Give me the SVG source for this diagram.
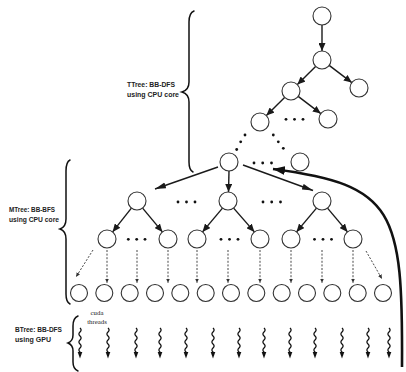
<svg xmlns="http://www.w3.org/2000/svg" xmlns:xlink="http://www.w3.org/1999/xlink" width="406" height="372" viewBox="0 0 406 372">
<style>
.n{fill:#fff;stroke:#333;stroke-width:1.1}
.e{fill:none;stroke:#1a1a1a;stroke-width:1.4}
.d{fill:none;stroke:#333;stroke-width:0.9;stroke-dasharray:2 1.6}
.br{fill:none;stroke:#111;stroke-width:1.5;stroke-linecap:round}
.dot{fill:#111}
.lb{font-family:"Liberation Sans",Arial,sans-serif;font-weight:bold;font-size:7.5px;fill:#222}
.cu{font-family:"Liberation Serif","Times New Roman",serif;font-size:6.8px;fill:#222;text-anchor:middle}
</style>
<defs>
<marker id="ah" markerUnits="userSpaceOnUse" markerWidth="9" markerHeight="7" refX="8" refY="3.5" orient="auto"><path d="M0,0 L8,3.5 L0,7 Z" fill="#1a1a1a"/></marker>
<marker id="ahl" markerUnits="userSpaceOnUse" markerWidth="12" markerHeight="7" refX="11" refY="3.5" orient="auto"><path d="M0,0.5 L11,3.5 L0,6.5 Z" fill="#1a1a1a"/></marker>
<marker id="ahb" markerUnits="userSpaceOnUse" markerWidth="13" markerHeight="9" refX="12" refY="4.5" orient="auto"><path d="M0,0 L12,4.5 L0,9 Z" fill="#111"/></marker>
<marker id="ahs" markerUnits="userSpaceOnUse" markerWidth="5" markerHeight="4" refX="4.5" refY="2" orient="auto"><path d="M0,0 L4.5,2 L0,4 Z" fill="#333"/></marker>
<g id="wv"><path d="M0 328 q2.2 2 0 4 q-2.2 2 0 4 q2.2 2 0 4 q-2.2 2 0 4 q2.2 2 0 4 q-2.2 2 0 4 L0 353" fill="none" stroke="#111" stroke-width="1.3"/><path d="M-2.3 352 L2.3 352 L0 358.5 Z" fill="#111"/></g>
</defs>
<rect width="406" height="372" fill="#fff"/>

<g id="labels">
<path class="br" d="M194 11 Q189 13 189 22 L189 82 Q189 90 182 92 Q189 94 189 102 L189 162 Q189 170 193 172"/>
<text class="lb" x="127" y="86.5" textLength="48" lengthAdjust="spacingAndGlyphs">TTree: BB-DFS</text>
<text class="lb" x="127" y="96.5" textLength="52" lengthAdjust="spacingAndGlyphs">using CPU core</text>
<path class="br" d="M70 160 Q66 162 66 171 L66 219 Q66 227 60 229 Q66 231 66 239 L66 294 Q66 302 70 304"/>
<text class="lb" x="9" y="211.5" textLength="46" lengthAdjust="spacingAndGlyphs">MTree: BB-BFS</text>
<text class="lb" x="9" y="222" textLength="50" lengthAdjust="spacingAndGlyphs">using CPU core</text>
<path class="br" d="M78 316 Q73 318 73 326 L73 335 Q73 341 68 343 Q73 345 73 351 L73 362 Q73 369 78 371"/>
<text class="lb" x="15" y="332" textLength="47" lengthAdjust="spacingAndGlyphs">BTree: BB-DFS</text>
<text class="lb" x="15" y="342" textLength="36" lengthAdjust="spacingAndGlyphs">using  GPU</text>
<text class="cu" x="97" y="315">cuda</text>
<text class="cu" x="97" y="324">threads</text>
</g>

<g id="connectors">
<line class="e" x1="322" y1="25" x2="322" y2="51" marker-end="url(#ah)"/>
<line class="e" x1="315.6" y1="66.4" x2="297.4" y2="84.6" marker-end="url(#ah)"/>
<line class="e" x1="329.2" y1="65.4" x2="351.8" y2="82.6" marker-end="url(#ah)"/>
<line class="e" x1="284.6" y1="97.4" x2="266.4" y2="115.6" marker-end="url(#ah)"/>
<line class="e" x1="298.2" y1="96.4" x2="320.8" y2="113.6" marker-end="url(#ah)"/>
<line class="e" x1="218" y1="167" x2="155" y2="189" marker-end="url(#ahl)"/>
<line class="e" x1="229" y1="171" x2="228.5" y2="192" marker-end="url(#ah)"/>
<line class="e" x1="243" y1="165" x2="313" y2="190.5" marker-end="url(#ahl)"/>
<line class="e" x1="131.4" y1="208.1" x2="112.6" y2="231.9" marker-end="url(#ah)"/>
<line class="e" x1="142.6" y1="208.1" x2="162.4" y2="231.9" marker-end="url(#ah)"/>
<line class="e" x1="222.5" y1="208.1" x2="202.5" y2="231.9" marker-end="url(#ah)"/>
<line class="e" x1="233.6" y1="208.1" x2="254.4" y2="231.9" marker-end="url(#ah)"/>
<line class="e" x1="316.5" y1="208.1" x2="296.5" y2="231.9" marker-end="url(#ah)"/>
<line class="e" x1="327.5" y1="208.1" x2="347.5" y2="231.9" marker-end="url(#ah)"/>
<path d="M402 367 C403 210 395 185 273 169" fill="none" stroke="#111" stroke-width="2.6" marker-end="url(#ahb)"/>
<line class="d" x1="93" y1="250" x2="76" y2="277" marker-end="url(#ahs)"/>
<line class="d" x1="107" y1="250" x2="107" y2="283" marker-end="url(#ahs)"/>
<line class="d" x1="137" y1="250" x2="137" y2="283" marker-end="url(#ahs)"/>
<line class="d" x1="168" y1="250" x2="168" y2="283" marker-end="url(#ahs)"/>
<line class="d" x1="197" y1="250" x2="197" y2="283" marker-end="url(#ahs)"/>
<line class="d" x1="228" y1="250" x2="228" y2="283" marker-end="url(#ahs)"/>
<line class="d" x1="260" y1="250" x2="260" y2="283" marker-end="url(#ahs)"/>
<line class="d" x1="291" y1="250" x2="291" y2="283" marker-end="url(#ahs)"/>
<line class="d" x1="322" y1="250" x2="322" y2="283" marker-end="url(#ahs)"/>
<line class="d" x1="353" y1="250" x2="353" y2="283" marker-end="url(#ahs)"/>
<line class="d" x1="366" y1="251" x2="382" y2="279" marker-end="url(#ahs)"/>
</g>

<g id="ellipses">
<circle class="dot" cx="245" cy="135" r="1.4"/><circle class="dot" cx="240.7" cy="141.8" r="1.4"/><circle class="dot" cx="236.7" cy="149.5" r="1.4"/>
<circle class="dot" cx="273.3" cy="135" r="1.4"/><circle class="dot" cx="278.3" cy="141.8" r="1.4"/><circle class="dot" cx="283.3" cy="148.3" r="1.4"/>
<circle class="dot" cx="286" cy="119.3" r="1.4"/><circle class="dot" cx="294.5" cy="119.3" r="1.4"/><circle class="dot" cx="303" cy="119.3" r="1.4"/>
<circle class="dot" cx="254" cy="163" r="1.4"/><circle class="dot" cx="262.7" cy="163" r="1.4"/><circle class="dot" cx="271.5" cy="163" r="1.4"/>
<circle class="dot" cx="178" cy="202" r="1.4"/><circle class="dot" cx="186.5" cy="202" r="1.4"/><circle class="dot" cx="195" cy="202" r="1.4"/>
<circle class="dot" cx="263" cy="202" r="1.4"/><circle class="dot" cx="271.7" cy="202" r="1.4"/><circle class="dot" cx="280.5" cy="202" r="1.4"/>
<circle class="dot" cx="128.3" cy="239.3" r="1.4"/><circle class="dot" cx="136.7" cy="239.3" r="1.4"/><circle class="dot" cx="145" cy="239.3" r="1.4"/>
<circle class="dot" cx="221" cy="239.3" r="1.4"/><circle class="dot" cx="229.5" cy="239.3" r="1.4"/><circle class="dot" cx="238" cy="239.3" r="1.4"/>
<circle class="dot" cx="314.5" cy="239.3" r="1.4"/><circle class="dot" cx="323" cy="239.3" r="1.4"/><circle class="dot" cx="331.5" cy="239.3" r="1.4"/>
</g>

<g id="t1"><circle class="n" cx="322" cy="16" r="9"/></g>
<g id="t2"><circle class="n" cx="322" cy="60" r="9"/></g>
<g id="t3"><circle class="n" cx="291" cy="91" r="9"/></g>
<g id="t4"><circle class="n" cx="359" cy="88" r="9"/></g>
<g id="t5"><circle class="n" cx="260" cy="122" r="9"/></g>
<g id="t6"><circle class="n" cx="328" cy="119" r="9"/></g>
<g id="t7"><circle class="n" cx="229" cy="162" r="9"/></g>
<g id="t8"><circle class="n" cx="300" cy="162" r="9"/></g>
<g id="m1"><circle class="n" cx="137" cy="201" r="9"/></g>
<g id="m2"><circle class="n" cx="228" cy="201" r="9"/></g>
<g id="m3"><circle class="n" cx="322" cy="201" r="9"/></g>
<g id="m4"><circle class="n" cx="107" cy="239" r="9"/></g>
<g id="m5"><circle class="n" cx="168" cy="239" r="9"/></g>
<g id="m6"><circle class="n" cx="197" cy="239" r="9"/></g>
<g id="m7"><circle class="n" cx="260" cy="239" r="9"/></g>
<g id="m8"><circle class="n" cx="291" cy="239" r="9"/></g>
<g id="m9"><circle class="n" cx="353" cy="239" r="9"/></g>
<g id="b1"><circle class="n" cx="79" cy="293" r="8.5"/></g>
<g id="b2"><circle class="n" cx="104.3" cy="293" r="8.5"/></g>
<g id="b3"><circle class="n" cx="129.7" cy="293" r="8.5"/></g>
<g id="b4"><circle class="n" cx="155" cy="293" r="8.5"/></g>
<g id="b5"><circle class="n" cx="180.3" cy="293" r="8.5"/></g>
<g id="b6"><circle class="n" cx="205.7" cy="293" r="8.5"/></g>
<g id="b7"><circle class="n" cx="231" cy="293" r="8.5"/></g>
<g id="b8"><circle class="n" cx="256.3" cy="293" r="8.5"/></g>
<g id="b9"><circle class="n" cx="281.7" cy="293" r="8.5"/></g>
<g id="b10"><circle class="n" cx="307" cy="293" r="8.5"/></g>
<g id="b11"><circle class="n" cx="332.3" cy="293" r="8.5"/></g>
<g id="b12"><circle class="n" cx="357.7" cy="293" r="8.5"/></g>
<g id="b13"><circle class="n" cx="383" cy="293" r="8.5"/></g>

<g id="threads">
<use xlink:href="#wv" x="80"/><use xlink:href="#wv" x="108"/><use xlink:href="#wv" x="136"/><use xlink:href="#wv" x="160"/><use xlink:href="#wv" x="186"/><use xlink:href="#wv" x="213"/><use xlink:href="#wv" x="239"/><use xlink:href="#wv" x="264"/><use xlink:href="#wv" x="290"/><use xlink:href="#wv" x="315"/><use xlink:href="#wv" x="342"/><use xlink:href="#wv" x="368"/><use xlink:href="#wv" x="389"/>
</g>
</svg>
